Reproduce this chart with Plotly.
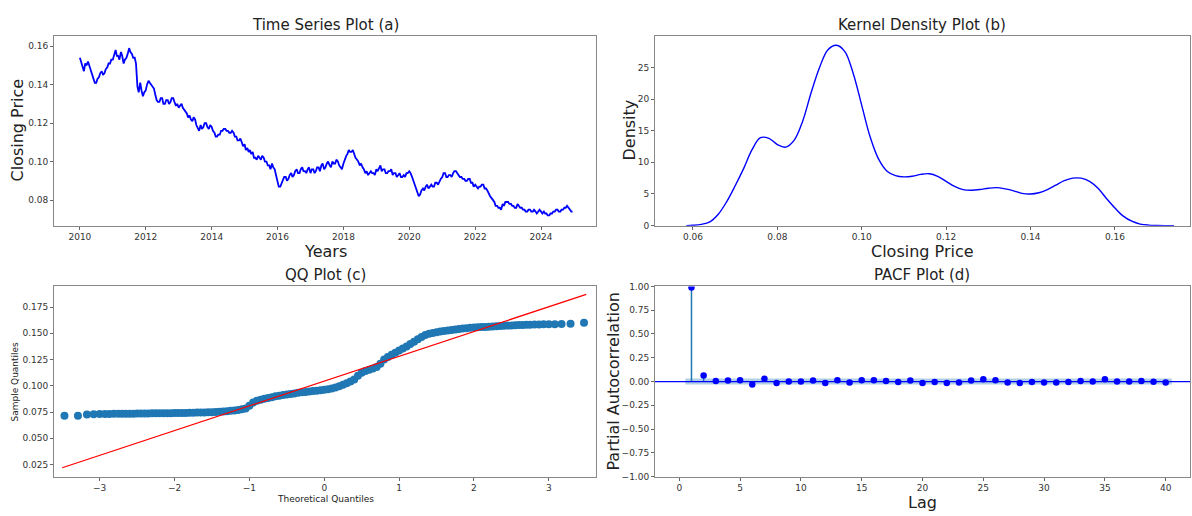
import pandas as pd
import plotly.graph_objects as go

# ---------------- data ----------------
# (a) semi-monthly closing price, 2010-2024 (24 readings per year)
price_by_year = {
    2010: [0.154, 0.152, 0.149, 0.147, 0.151, 0.150, 0.152, 0.150, 0.148, 0.146, 0.143, 0.141,
           0.141, 0.143, 0.144, 0.146, 0.147, 0.145, 0.146, 0.148, 0.149, 0.151, 0.151, 0.153],
    2011: [0.153, 0.156, 0.158, 0.155, 0.155, 0.153, 0.157, 0.155, 0.151, 0.153, 0.154, 0.156,
           0.159, 0.157, 0.156, 0.154, 0.154, 0.151, 0.139, 0.136, 0.141, 0.137, 0.134, 0.136],
    2012: [0.137, 0.140, 0.142, 0.141, 0.140, 0.139, 0.138, 0.135, 0.132, 0.131, 0.131, 0.133,
           0.133, 0.130, 0.130, 0.132, 0.132, 0.130, 0.131, 0.133, 0.133, 0.131, 0.129, 0.130],
    2013: [0.128, 0.129, 0.130, 0.128, 0.127, 0.126, 0.125, 0.123, 0.124, 0.122, 0.121, 0.123,
           0.122, 0.119, 0.117, 0.116, 0.119, 0.117, 0.118, 0.120, 0.120, 0.118, 0.117, 0.119],
    2014: [0.118, 0.116, 0.115, 0.113, 0.113, 0.114, 0.114, 0.116, 0.116, 0.117, 0.117, 0.116,
           0.116, 0.115, 0.115, 0.116, 0.115, 0.113, 0.113, 0.111, 0.111, 0.112, 0.110, 0.108],
    2015: [0.109, 0.106, 0.107, 0.105, 0.106, 0.104, 0.105, 0.102, 0.102, 0.101, 0.103, 0.102,
           0.101, 0.103, 0.102, 0.100, 0.100, 0.098, 0.098, 0.096, 0.099, 0.097, 0.096, 0.093],
    2016: [0.090, 0.087, 0.087, 0.089, 0.090, 0.092, 0.092, 0.090, 0.091, 0.093, 0.094, 0.092,
           0.093, 0.095, 0.096, 0.094, 0.094, 0.096, 0.097, 0.095, 0.095, 0.094, 0.096, 0.097],
    2017: [0.094, 0.096, 0.096, 0.094, 0.095, 0.097, 0.097, 0.095, 0.098, 0.099, 0.096, 0.097,
           0.099, 0.100, 0.098, 0.097, 0.100, 0.099, 0.099, 0.101, 0.100, 0.098, 0.097, 0.096],
    2018: [0.099, 0.101, 0.103, 0.104, 0.106, 0.105, 0.105, 0.106, 0.104, 0.102, 0.101, 0.100,
           0.098, 0.099, 0.097, 0.096, 0.094, 0.095, 0.093, 0.094, 0.095, 0.094, 0.094, 0.093],
    2019: [0.096, 0.095, 0.097, 0.098, 0.095, 0.096, 0.096, 0.094, 0.094, 0.095, 0.095, 0.096,
           0.093, 0.094, 0.094, 0.092, 0.093, 0.094, 0.092, 0.092, 0.093, 0.092, 0.094, 0.094],
    2020: [0.095, 0.094, 0.092, 0.090, 0.089, 0.087, 0.084, 0.082, 0.083, 0.085, 0.086, 0.085,
           0.087, 0.088, 0.086, 0.087, 0.088, 0.087, 0.087, 0.089, 0.089, 0.088, 0.090, 0.091],
    2021: [0.092, 0.094, 0.094, 0.092, 0.092, 0.093, 0.093, 0.092, 0.094, 0.095, 0.095, 0.094,
           0.093, 0.092, 0.092, 0.091, 0.091, 0.090, 0.090, 0.091, 0.091, 0.089, 0.089, 0.087],
    2022: [0.088, 0.087, 0.086, 0.087, 0.087, 0.088, 0.088, 0.086, 0.086, 0.085, 0.083, 0.082,
           0.081, 0.080, 0.079, 0.077, 0.077, 0.076, 0.076, 0.075, 0.078, 0.077, 0.079, 0.079],
    2023: [0.079, 0.078, 0.078, 0.077, 0.077, 0.076, 0.076, 0.078, 0.077, 0.076, 0.076, 0.075,
           0.075, 0.074, 0.074, 0.075, 0.075, 0.074, 0.074, 0.075, 0.074, 0.073, 0.074, 0.075],
    2024: [0.074, 0.073, 0.074, 0.073, 0.073, 0.072, 0.072, 0.073, 0.073, 0.074, 0.074, 0.075,
           0.075, 0.074, 0.074, 0.075, 0.075, 0.076, 0.076, 0.077, 0.076, 0.075, 0.074, 0.074],
}
year_ticks = [2010, 2012, 2014, 2016, 2018, 2020, 2022, 2024]

# (b) kernel density of closing price
kde_x = [0.0584, 0.060, 0.062, 0.064, 0.066, 0.068, 0.070, 0.072, 0.074, 0.076, 0.078, 0.080,
         0.082, 0.084, 0.086, 0.088, 0.090, 0.092, 0.094, 0.096, 0.098, 0.100, 0.102, 0.104,
         0.106, 0.108, 0.110, 0.112, 0.114, 0.116, 0.118, 0.120, 0.122, 0.124, 0.126, 0.128,
         0.130, 0.132, 0.134, 0.136, 0.138, 0.140, 0.142, 0.144, 0.146, 0.148, 0.150, 0.152,
         0.154, 0.156, 0.158, 0.160, 0.162, 0.164, 0.166, 0.168, 0.170, 0.172, 0.174]
kde_y = [0.0, 0.05, 0.2, 0.6, 1.8, 3.8, 6.3, 9.0, 12.0, 13.9, 13.8, 12.8,
         12.4, 13.5, 16.5, 21.0, 25.0, 27.8, 28.5, 27.5, 24.0, 19.0, 14.0, 10.5,
         8.6, 7.9, 7.7, 7.8, 8.1, 8.2, 7.8, 7.0, 6.2, 5.7, 5.6, 5.7,
         5.9, 6.0, 5.8, 5.5, 5.1, 5.0, 5.2, 5.7, 6.4, 7.1, 7.5, 7.5,
         7.0, 5.9, 4.3, 2.8, 1.5, 0.7, 0.25, 0.08, 0.02, 0.0, 0.0]

# (c) QQ plot: theoretical vs sample quantiles
qq_theo = [-3.47, -3.29, -3.17, -3.08, -3.0, -2.93, -2.87, -2.81, -2.75, -2.7, -2.65, -2.6,
           -2.55, -2.5, -2.45, -2.4, -2.35, -2.3, -2.25, -2.2, -2.15, -2.1, -2.05, -2.0,
           -1.95, -1.9, -1.85, -1.8, -1.75, -1.7, -1.65, -1.6, -1.55, -1.5, -1.45, -1.4,
           -1.35, -1.3, -1.25, -1.2, -1.15, -1.1, -1.05, -1.0, -0.95, -0.9, -0.85, -0.8,
           -0.75, -0.7, -0.65, -0.6, -0.55, -0.5, -0.45, -0.4, -0.35, -0.3, -0.25, -0.2,
           -0.15, -0.1, -0.05, 0.0, 0.05, 0.1, 0.15, 0.2, 0.25, 0.3, 0.35, 0.4,
           0.45, 0.5, 0.55, 0.6, 0.65, 0.7, 0.75, 0.8, 0.85, 0.9, 0.95, 1.0,
           1.05, 1.1, 1.15, 1.2, 1.25, 1.3, 1.35, 1.4, 1.45, 1.5, 1.55, 1.6,
           1.65, 1.7, 1.75, 1.8, 1.85, 1.9, 1.95, 2.0, 2.05, 2.1, 2.15, 2.2,
           2.25, 2.3, 2.35, 2.4, 2.45, 2.5, 2.55, 2.6, 2.65, 2.7, 2.75, 2.81,
           2.87, 2.93, 3.0, 3.08, 3.17, 3.29, 3.47]
qq_sample = [0.0716, 0.0716, 0.0728, 0.0730, 0.0731, 0.0732, 0.0732, 0.0733, 0.0733, 0.0734, 0.0734, 0.0735,
             0.0735, 0.0736, 0.0736, 0.0737, 0.0737, 0.0738, 0.0738, 0.0739, 0.0739, 0.0740, 0.0740, 0.0741,
             0.0741, 0.0742, 0.0742, 0.0743, 0.0744, 0.0745, 0.0746, 0.0747, 0.0748, 0.0749, 0.0751, 0.0753,
             0.0755, 0.0758, 0.0762, 0.0766, 0.0770, 0.0776, 0.0785, 0.0810, 0.0840, 0.0858, 0.0868, 0.0878,
             0.0885, 0.0892, 0.0900, 0.0906, 0.0912, 0.0918, 0.0923, 0.0928, 0.0933, 0.0938, 0.0942, 0.0946,
             0.0950, 0.0954, 0.0958, 0.0962, 0.0968, 0.0975, 0.0985, 0.0997, 0.1010, 0.1025, 0.1040, 0.1060,
             0.1095, 0.1125, 0.1140, 0.1152, 0.1165, 0.1180, 0.1210, 0.1250, 0.1275, 0.1295, 0.1315, 0.1335,
             0.1355, 0.1375, 0.1398, 0.1420, 0.1443, 0.1465, 0.1483, 0.1495, 0.1503, 0.1510, 0.1516, 0.1522,
             0.1527, 0.1532, 0.1537, 0.1541, 0.1545, 0.1549, 0.1552, 0.1555, 0.1557, 0.1559, 0.1561, 0.1563,
             0.1565, 0.1567, 0.1569, 0.1571, 0.1573, 0.1575, 0.1577, 0.1579, 0.1580, 0.1581, 0.1582, 0.1583,
             0.1584, 0.1585, 0.1586, 0.1587, 0.1588, 0.1592, 0.1600]
qq_line_x = [-3.5, 3.5]
qq_line_y = [0.0220, 0.1870]

# (d) partial autocorrelation by lag
pacf_lags = list(range(1, 41))
pacf_vals = [0.99, 0.065, 0.005, 0.010, 0.015, -0.030, 0.030, -0.015, 0.000, 0.000,
             0.010, -0.015, 0.015, -0.010, 0.015, 0.015, 0.005, -0.005, 0.010, -0.015,
             -0.005, -0.015, -0.010, 0.010, 0.025, 0.015, -0.010, -0.015, -0.005, -0.010,
             -0.010, -0.005, 0.005, 0.000, 0.025, 0.000, 0.000, 0.005, -0.002, -0.010]
pacf_conf = 0.032

# ---------------- figure ----------------
W, H = 1192, 516
prices = [v for yr in sorted(price_by_year) for v in price_by_year[yr]]
dates = pd.date_range("2010-01-01", periods=len(prices), freq="SMS")

fig = go.Figure()

# (a)
fig.add_trace(go.Scatter(x=dates, y=prices, mode="lines",
                         line=dict(color="#0000ff", width=1.8),
                         xaxis="x", yaxis="y", showlegend=False))
# (b)
fig.add_trace(go.Scatter(x=kde_x, y=kde_y, mode="lines", line_shape="spline",
                         line=dict(color="#0000ff", width=1.4),
                         xaxis="x2", yaxis="y2", showlegend=False))
# (c)
fig.add_trace(go.Scatter(x=qq_theo, y=qq_sample, mode="markers",
                         marker=dict(color="#1f77b4", size=8),
                         xaxis="x3", yaxis="y3", showlegend=False))
fig.add_trace(go.Scatter(x=qq_line_x, y=qq_line_y, mode="lines",
                         line=dict(color="#ff0000", width=1.3),
                         xaxis="x3", yaxis="y3", showlegend=False))
# (d)
fig.add_trace(go.Scatter(x=[pacf_lags[0] - 0.5, pacf_lags[-1] + 0.5, pacf_lags[-1] + 0.5, pacf_lags[0] - 0.5],
                         y=[-pacf_conf, -pacf_conf, pacf_conf, pacf_conf],
                         fill="toself", fillcolor="rgba(31,119,180,0.35)", line=dict(width=0),
                         mode="lines", xaxis="x4", yaxis="y4", showlegend=False, hoverinfo="skip"))
stem_x, stem_y = [], []
for l, v in zip(pacf_lags, pacf_vals):
    stem_x += [l, l, None]
    stem_y += [0, v, None]
fig.add_trace(go.Scatter(x=stem_x, y=stem_y, mode="lines",
                         line=dict(color="#1f77b4", width=1.5),
                         xaxis="x4", yaxis="y4", showlegend=False))
fig.add_trace(go.Scatter(x=[-2, 42], y=[0, 0], mode="lines",
                         line=dict(color="#0000ff", width=1.2),
                         xaxis="x4", yaxis="y4", showlegend=False))
fig.add_trace(go.Scatter(x=pacf_lags, y=pacf_vals, mode="markers",
                         marker=dict(color="#0000ff", size=6.5),
                         xaxis="x4", yaxis="y4", showlegend=False))

tickfont = dict(family="DejaVu Sans", size=9, color="#333")
axis_common = dict(showline=True, linecolor="#888", linewidth=1, mirror=True,
                   ticks="outside", ticklen=3, tickcolor="#666", tickfont=tickfont,
                   showgrid=False, zeroline=False)

def px_x(a, b):
    return [a / W, b / W]

def px_y(top, bottom):
    return [1 - bottom / H, 1 - top / H]

ROW1 = (32, 225)
ROW2 = (287, 481)
COLA = (54, 596)
COLB = (655, 1190)

fig.update_layout(
    width=W, height=H, margin=dict(l=0, r=0, t=0, b=0),
    paper_bgcolor="white", plot_bgcolor="white",
    font=dict(family="DejaVu Sans", color="#222"),
    xaxis=dict(domain=px_x(*COLA), anchor="y", type="date",
               range=[pd.Timestamp("2009-03-20"), pd.Timestamp("2025-09-01")],
               tickvals=[pd.Timestamp(year=y, month=1, day=1) for y in year_ticks],
               ticktext=[str(y) for y in year_ticks], **axis_common),
    yaxis=dict(domain=px_y(*ROW1), anchor="x", range=[0.0667, 0.1651],
               tickvals=[0.08, 0.10, 0.12, 0.14, 0.16], ticktext=["0.08", "0.10", "0.12", "0.14", "0.16"],
               **axis_common),
    xaxis2=dict(domain=px_x(*COLB), anchor="y2", range=[0.0510, 0.1778],
                tickvals=[0.06, 0.08, 0.10, 0.12, 0.14, 0.16],
                ticktext=["0.06", "0.08", "0.10", "0.12", "0.14", "0.16"], **axis_common),
    yaxis2=dict(domain=px_y(*ROW1), anchor="x2", range=[0, 29.9],
                tickvals=[0, 5, 10, 15, 20, 25], **axis_common),
    xaxis3=dict(domain=px_x(*COLA), anchor="y3", range=[-3.61, 3.63],
                tickvals=[-3, -2, -1, 0, 1, 2, 3], ticktext=["−3", "−2", "−1", "0", "1", "2", "3"],
                **axis_common),
    yaxis3=dict(domain=px_y(*ROW2), anchor="x3", range=[0.0135, 0.1946],
                tickvals=[0.025, 0.05, 0.075, 0.1, 0.125, 0.15, 0.175],
                ticktext=["0.025", "0.050", "0.075", "0.100", "0.125", "0.150", "0.175"],
                **axis_common),
    xaxis4=dict(domain=px_x(*COLB), anchor="y4", range=[-2, 42],
                tickvals=[0, 5, 10, 15, 20, 25, 30, 35, 40], **axis_common),
    yaxis4=dict(domain=px_y(*ROW2), anchor="x4", range=[-1.0, 1.0],
                tickvals=[-1, -0.75, -0.5, -0.25, 0, 0.25, 0.5, 0.75, 1.0],
                ticktext=["−1.00", "−0.75", "−0.50", "−0.25", "0.00", "0.25", "0.50", "0.75", "1.00"],
                **axis_common),
)

def ann(text, x, y, size, angle=0):
    fig.add_annotation(text=text, x=x / W, y=1 - y / H, xref="paper", yref="paper",
                       showarrow=False, textangle=angle, xanchor="center", yanchor="middle",
                       font=dict(family="DejaVu Sans", size=size, color="#222"))

ann("Time Series Plot (a)", 325, 20, 15)
ann("Kernel Density Plot (b)", 922, 20, 15)
ann("QQ Plot (c)", 325, 275, 15)
ann("PACF Plot (d)", 922, 275, 15)
ann("Years", 325, 251, 16)
ann("Closing Price", 922, 251, 16)
ann("Theoretical Quantiles", 325, 504, 9)
ann("Lag", 922, 507, 16)
ann("Closing Price", 18, 128, 16, -90)
ann("Density", 630, 128, 16, -90)
ann("Sample Quantiles", 15, 384, 9, -90)
ann("Partial Autocorrelation", 614, 384, 16, -90)

fig.write_html("out.html", config={"displayModeBar": False},
               post_script="document.body.style.margin='0';document.body.style.overflow='hidden';")
